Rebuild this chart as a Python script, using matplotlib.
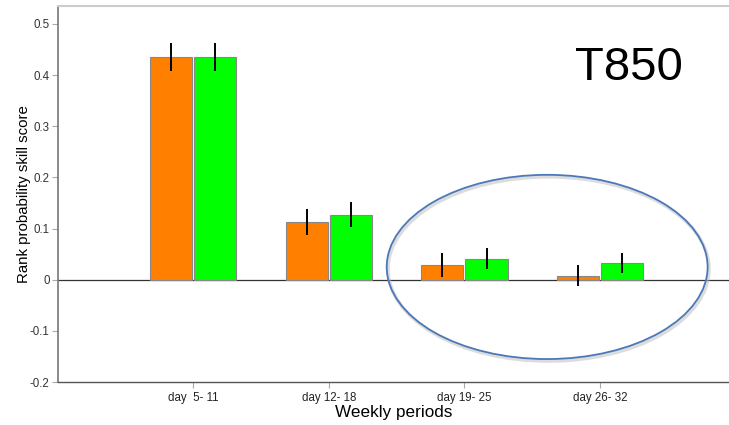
import matplotlib
matplotlib.use("Agg")
import matplotlib.pyplot as plt
import numpy as np
from matplotlib.patches import Ellipse

periods = ["day  5- 11", "day 12- 18", "day 19- 25", "day 26- 32"]
rpss_a = [0.435, 0.113, 0.029, 0.008]
err_a = [0.027, 0.025, 0.023, 0.021]
rpss_b = [0.435, 0.127, 0.041, 0.033]
err_b = [0.027, 0.024, 0.021, 0.019]
yticks = [-0.2, -0.1, 0, 0.1, 0.2, 0.3, 0.4, 0.5]
ytick_labels = ["-0.2", "-0.1", "0", "0.1", "0.2", "0.3", "0.4", "0.5"]

plt.rcParams["font.family"] = ["Liberation Sans", "DejaVu Sans"]

fig = plt.figure(figsize=(7.29, 4.25), dpi=100)
ax = fig.add_axes([0.0796, 0.101, 0.9204, 0.885])

x = np.arange(len(periods))
w = 0.31
off = 0.163
ax.bar(x - off, rpss_a, w, color="#ff8000", edgecolor="#888888", linewidth=0.8, zorder=2)
ax.bar(x + off, rpss_b, w, color="#00ff00", edgecolor="#888888", linewidth=0.8, zorder=2)
ax.errorbar(x - off, rpss_a, yerr=err_a, fmt="none", ecolor="black", elinewidth=1.4, capsize=0, zorder=3)
ax.errorbar(x + off, rpss_b, yerr=err_b, fmt="none", ecolor="black", elinewidth=1.4, capsize=0, zorder=3)

ax.axhline(0, color="#333333", linewidth=0.9, zorder=1)

ax.set_xlim(-0.995, 3.95)
ax.set_ylim(-0.2, 0.535)
ax.set_xticks(x)
ax.set_xticklabels(periods, fontsize=8.3, color="#222222")
ax.set_yticks(yticks)
ax.set_yticklabels(ytick_labels, fontsize=8.3, color="#333333")
ax.tick_params(axis="both", direction="out", length=4, color="#aaaaaa", pad=2)
ax.tick_params(axis="x", pad=3)

ax.spines["left"].set_color("#777777")
ax.spines["left"].set_linewidth(1.2)
ax.spines["bottom"].set_color("#555555")
ax.spines["bottom"].set_linewidth(1.0)
ax.spines["top"].set_color("#cccccc")
ax.spines["top"].set_linewidth(1.5)
ax.spines["right"].set_visible(False)

ax.set_ylabel("Rank probability skill score", fontsize=10.8, labelpad=-1)
ax.set_xlabel("Weekly periods", fontsize=12.3, labelpad=1)

# highlight ellipse around the last two periods
shadow = Ellipse((2.62, 0.021), 2.365, 0.36, fill=False, edgecolor="#bbbbbb",
                 linewidth=2.5, alpha=0.5, zorder=4)
ax.add_patch(shadow)
ring = Ellipse((2.61, 0.025), 2.365, 0.36, fill=False, edgecolor="#4a78b8",
               linewidth=1.3, zorder=5)
ax.add_patch(ring)

ax.text(0.851, 0.836, "T850", transform=ax.transAxes, fontsize=34,
        ha="center", va="center")

fig.savefig("out.png", dpi=100)
